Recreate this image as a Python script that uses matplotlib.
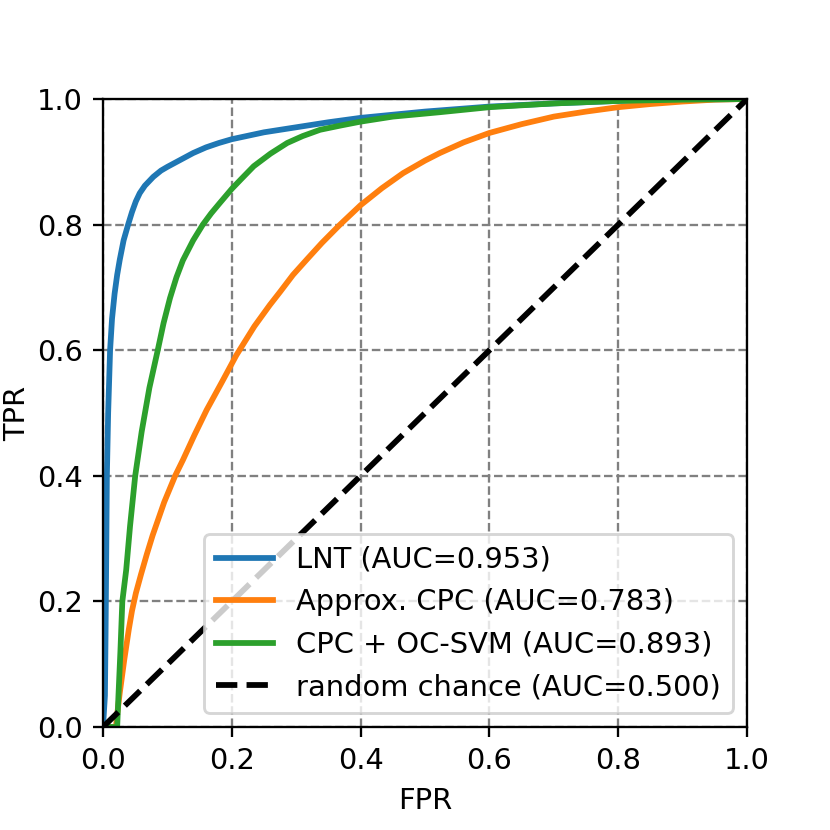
import matplotlib
matplotlib.use('Agg')
import matplotlib.pyplot as plt

# ROC curves ---------------------------------------------------------------------

lnt_fpr = [0.0, 0.003, 0.004, 0.005, 0.006, 0.008, 0.011, 0.014, 0.018, 0.022, 0.026,
           0.032, 0.039, 0.045, 0.051, 0.057, 0.065, 0.078, 0.09, 0.1, 0.12, 0.14,
           0.16, 0.18, 0.2, 0.25, 0.3, 0.35, 0.4, 0.5, 0.6, 0.7, 0.8, 0.9, 1.0]
lnt_tpr = [0.0, 0.05, 0.15, 0.27, 0.4, 0.5, 0.6, 0.65, 0.69, 0.72, 0.744,
           0.775, 0.8, 0.82, 0.837, 0.85, 0.862, 0.876, 0.886, 0.892, 0.903, 0.914,
           0.923, 0.93, 0.936, 0.947, 0.955, 0.963, 0.97, 0.98, 0.988, 0.993, 0.997,
           0.999, 1.0]

cpc_fpr = [0.0, 0.02, 0.022, 0.026, 0.033, 0.04, 0.045, 0.051, 0.059, 0.068, 0.077,
           0.095, 0.112, 0.124, 0.142, 0.161, 0.185, 0.207, 0.235, 0.259, 0.275, 0.295,
           0.316, 0.34, 0.368, 0.4, 0.433, 0.466, 0.5, 0.523, 0.56, 0.6, 0.65, 0.7,
           0.75, 0.8, 0.85, 0.9, 0.95, 1.0]
cpc_tpr = [0.0, 0.0, 0.02, 0.054, 0.107, 0.155, 0.185, 0.213, 0.243, 0.275, 0.305,
           0.358, 0.4, 0.425, 0.465, 0.505, 0.55, 0.592, 0.638, 0.672, 0.693, 0.72,
           0.744, 0.771, 0.8, 0.831, 0.858, 0.882, 0.902, 0.914, 0.931, 0.946, 0.96,
           0.972, 0.98, 0.987, 0.992, 0.996, 0.999, 1.0]

svm_fpr = [0.0, 0.022, 0.024, 0.027, 0.03, 0.036, 0.042, 0.05, 0.06, 0.072, 0.085,
           0.094, 0.104, 0.114, 0.124, 0.14, 0.155, 0.168, 0.181, 0.2, 0.215, 0.234,
           0.26, 0.286, 0.31, 0.337, 0.37, 0.4, 0.45, 0.523, 0.6, 0.7, 0.8, 0.9, 1.0]
svm_tpr = [0.0, 0.0, 0.05, 0.12, 0.2, 0.25, 0.32, 0.4, 0.47, 0.54, 0.6,
           0.643, 0.683, 0.716, 0.743, 0.775, 0.8, 0.818, 0.834, 0.857, 0.873, 0.893,
           0.913, 0.93, 0.941, 0.951, 0.958, 0.964, 0.972, 0.979, 0.987, 0.993, 0.997,
           0.999, 1.0]

chance = [0.0, 1.0]

labels = ['LNT (AUC=0.953)',
          'Approx. CPC (AUC=0.783)',
          'CPC + OC-SVM (AUC=0.893)',
          'random chance (AUC=0.500)']

ticks = [0.0, 0.2, 0.4, 0.6, 0.8, 1.0]

# PLOT ------------------------------------------------------------------------

fig = plt.figure(figsize=(4.0, 4.0), dpi=207.5)
ax = fig.add_axes([0.1241, 0.1241, 0.776, 0.7566])

ax.plot(lnt_fpr, lnt_tpr, color='tab:blue', lw=2, label=labels[0])
ax.plot(cpc_fpr, cpc_tpr, color='tab:orange', lw=2, label=labels[1])
ax.plot(svm_fpr, svm_tpr, color='tab:green', lw=2, label=labels[2])
ax.plot(chance, chance, 'k--', lw=2, label=labels[3])

ax.set_xlim(0, 1)
ax.set_ylim(0, 1)
ax.set_xticks(ticks)
ax.set_yticks(ticks)
ax.grid(True, color='gray', linestyle='--')
ax.set_axisbelow(True)
ax.set_xlabel('FPR')
ax.set_ylabel('TPR', labelpad=2)
ax.legend(loc='lower right')

fig.savefig('out.png', dpi=207.5)
